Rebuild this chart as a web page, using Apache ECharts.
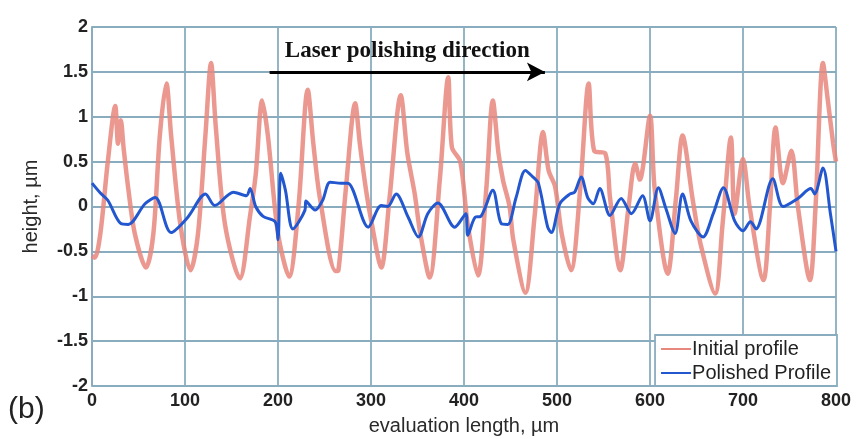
<!DOCTYPE html>
<html><head><meta charset="utf-8">
<script src="https://cdn.jsdelivr.net/npm/echarts@6/dist/echarts.min.js"></script>
<style>html,body{margin:0;padding:0;background:#fff}#c{width:858px;height:439px}</style>
</head><body><div id="c"></div>
<script>
const initialX = [0,3,9,17,25,28,31,34,39,46,58,66,73,80,85,95,106,114,122,128,133,143,159,170,176,183,189,200,212,222,232,238,245,262,
  265,273,283,288,295,301,311,320,332,339,347,353,363,374,383,387,396,404,415,424,431,437,442,449,453,466,476,485,491,498,505,515,525,534,540,552,557,568,577,584,589,600,605,619,628,635,646,654,670,678,687,691,700,707,722,729,735,743,752,759,772,778,786,791,797,800];
const initialY = [-0.55,-0.57,-0.3,0.5,1.12,0.7,0.96,0.65,0.2,-0.3,-0.68,-0.3,0.8,1.37,0.8,-0.2,-0.71,-0.3,0.8,1.6,0.9,-0.2,-0.8,-0.1,0.35,1.18,0.8,-0.3,-0.78,0,1.3,0.7,0.1,-0.72,
  -0.71,0.2,1.15,0.7,0.16,-0.2,-0.68,0.1,1.24,0.6,0.14,-0.3,-0.79,0.3,1.44,0.66,0.5,-0.2,-0.77,0.2,1.18,0.6,0.29,0,-0.37,-0.96,-0.1,0.83,0.4,0.22,-0.3,-0.71,0.2,1.37,0.62,0.59,0.1,-0.71,0,0.48,0.3,1.01,0.2,-0.75,0.1,0.79,0.07,-0.4,-0.97,-0.2,0.77,-0.08,0.53,0,-0.82,0,0.88,0.26,0.62,0,-0.82,0,1.6,1.2,0.7,0.5];
const polishedX = [0,9,17,31,39,57,68,85,103,122,132,152,166,170,176,184,197,200,203,208,216,229,230,240,248,256,268,275,297,311,318,327,340,351,361,372,390,402,404,412,418,431,440,447,456,466,474,480,490,494,503,514,519,526,533,539,546,557,569,580,592,600,609,617,627,635,644,657,668,679,691,700,708,714,732,743,759,773,777,786,794,800];
const polishedY = [0.26,0.15,0.07,-0.19,-0.2,0.03,0.1,-0.29,-0.12,0.14,0.01,0.16,0.12,0.2,0,-0.11,-0.17,-0.37,0.37,0.18,-0.25,-0.04,0.06,-0.04,0.07,0.27,0.26,0.26,-0.23,0.01,0,0.14,-0.12,-0.34,-0.08,0.04,-0.23,-0.08,-0.32,-0.12,-0.11,0.18,-0.19,-0.2,0.1,0.4,0.33,0.26,-0.23,-0.29,0.03,0.14,0.16,0.33,0.1,0.03,0.2,-0.1,0.09,-0.08,0.12,-0.16,0.21,-0.02,-0.3,0.14,-0.16,-0.34,-0.08,0.21,-0.16,-0.27,-0.17,-0.25,0.31,0,0.09,0.2,0.14,0.43,-0.08,-0.5];
const seriesNames = ['Initial profile','Polished Profile'];
const arrowStart = [191, 1.5], arrowEnd = [487, 1.5];
const arrowText = 'Laser polishing direction';

const zip = (xs, ys) => xs.map((x, i) => [x, ys[i]]);
const gridColor = '#89adbf';
const chart = echarts.init(document.getElementById('c'));
chart.setOption({
  animation: false,
  grid: {left: 92, right: 22, top: 27, bottom: 53, outerBoundsMode: 'none', containLabel: false},
  xAxis: {
    type: 'value', min: 0, max: 800, interval: 100,
    name: 'evaluation length, µm', nameLocation: 'middle', nameGap: 30,
    nameTextStyle: {fontFamily: 'Liberation Sans', fontSize: 20, color: '#2a2a2a'},
    axisLine: {lineStyle: {color: gridColor, width: 2}},
    axisTick: {show: false},
    axisLabel: {fontFamily: 'Liberation Sans', fontWeight: 'bold', fontSize: 18, color: '#222', margin: 6},
    splitLine: {lineStyle: {color: gridColor, width: 1.8}}
  },
  yAxis: {
    type: 'value', min: -2, max: 2, interval: 0.5,
    name: 'height, µm', nameLocation: 'middle', nameGap: 51,
    nameTextStyle: {fontFamily: 'Liberation Sans', fontSize: 20, color: '#2a2a2a'},
    axisLine: {lineStyle: {color: gridColor, width: 2}},
    axisTick: {show: false},
    axisLabel: {fontFamily: 'Liberation Sans', fontWeight: 'bold', fontSize: 18, color: '#222', margin: 4},
    splitLine: {lineStyle: {color: gridColor, width: 1.8}}
  },
  legend: {
    orient: 'vertical', right: 21, bottom: 53, itemGap: 4,
    backgroundColor: '#fff', borderColor: gridColor, borderWidth: 1.8, borderRadius: 0,
    padding: [4, 6, 3, 6],
    itemWidth: 30, itemHeight: 20, icon: 'path://M0,9L30,9L30,11L0,11Z',
    textStyle: {fontFamily: 'Liberation Sans', fontSize: 20, color: '#222', padding: [0,0,0,-4]},
    data: seriesNames
  },
  series: [
    {
      name: seriesNames[0], type: 'line', data: zip(initialX, initialY), showSymbol: false, smooth: 0.3,
      lineStyle: {color: '#e8877d', width: 4.5, opacity: 0.85}, itemStyle: {color: '#e8877d'},
      markLine: {
        silent: true, symbol: ['none', 'arrow'], symbolSize: [14, 18],
        lineStyle: {color: '#000', width: 3, type: 'solid'},
        label: {show: true, position: 'insideMiddleTop', formatter: arrowText, distance: 9,
          fontFamily: 'Liberation Serif', fontWeight: 'bold', fontSize: 23, color: '#111'},
        data: [[{coord: arrowStart}, {coord: arrowEnd}]]
      }
    },
    {
      name: seriesNames[1], type: 'line', data: zip(polishedX, polishedY), showSymbol: false, smooth: 0.3,
      lineStyle: {color: '#2257cf', width: 3}, itemStyle: {color: '#2257cf'}
    }
  ],
  graphic: [{type: 'text', left: 8, top: 395, style: {text: '(b)', fontFamily: 'Liberation Sans', fontSize: 30, fill: '#222'}}]
});
</script></body></html>
